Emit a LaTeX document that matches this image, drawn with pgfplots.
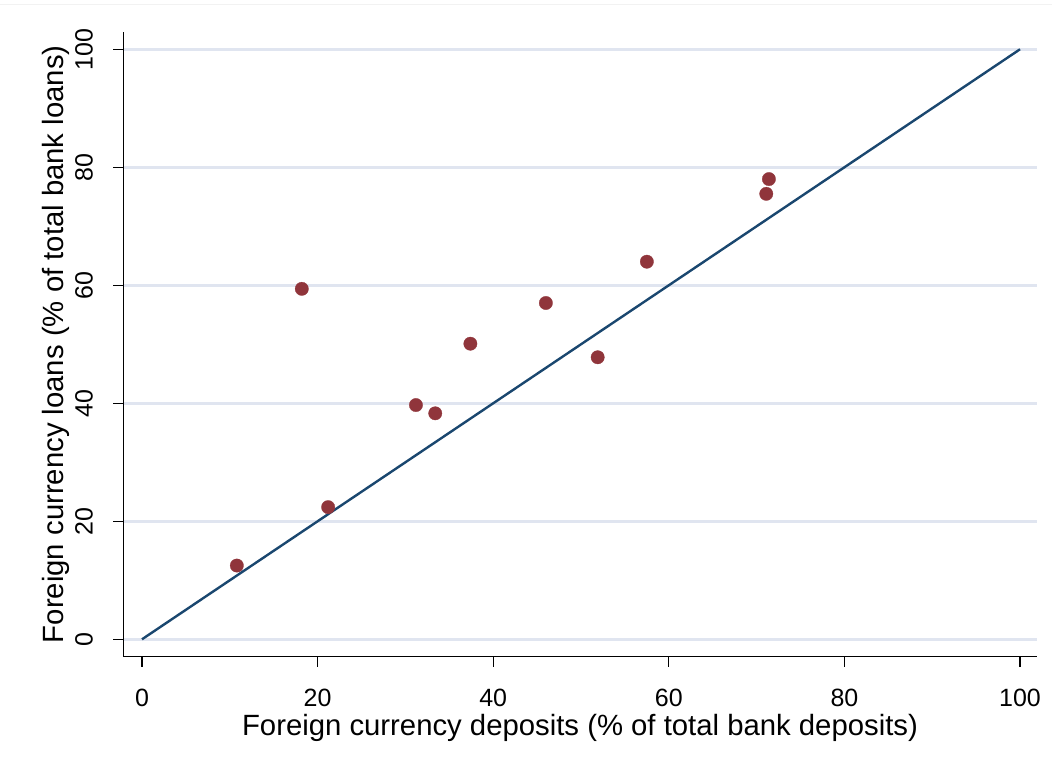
\documentclass[border=0pt]{standalone}
\usepackage{fontspec}
\setmainfont{Liberation Sans}
\usepackage{pgfplots}
\pgfplotsset{compat=1.18}
\definecolor{gridc}{RGB}{224,229,240}
\definecolor{navy}{RGB}{26,71,111}
\definecolor{maroon}{RGB}{144,53,59}
\begin{document}
\begin{tikzpicture}
\useasboundingbox (-123.3pt,-111.3pt) rectangle (928.7pt,656.7pt);
\draw[color={rgb,255:red,242;green,242;blue,242}, line width=1pt] (-123.3pt,651.7pt) -- (928.7pt,651.7pt);
\begin{axis}[
  scale only axis,
  width=913.4pt, height=625pt,
  xmin=-2.13, xmax=101.9,
  ymin=-2.95, ymax=102.98,
  axis x line*=bottom, axis y line*=left,
  axis line style={black, line width=1.3pt},
  xtick={0,20,...,100}, ytick={0,20,...,100},
  tick align=outside,
  major tick length=10pt,
  tick style={black, line width=1.3pt},
  ymajorgrids,
  major grid style={gridc, line width=2.7pt},
  /pgf/number format/assume math mode=true,
  tick label style={font=\fontsize{25}{30}\selectfont},
  xticklabel style={anchor=base, inner sep=0pt, yshift=-40.3pt},
  yticklabel style={xshift=-20.6pt, rotate=90, anchor=base, inner sep=0pt},
  every axis x label/.style={at={(axis description cs:0.5,0)}, yshift=-79pt, anchor=base, font=\fontsize{29.3}{34}\selectfont},
  every axis y label/.style={at={(axis description cs:0,0.5)}, xshift=-59.3pt, rotate=90, anchor=base, font=\fontsize{29.3}{34}\selectfont},
  xlabel={Foreign currency deposits (\% of total bank deposits)},
  ylabel={Foreign currency loans (\% of total bank loans)},
  clip=false,
]
\addplot[maroon, only marks, mark=*, mark size=6.7pt, mark options={fill=maroon, draw=maroon, line width=0.3pt}] coordinates {
(10.8,12.5) (21.2,22.4) (18.2,59.4) (31.2,39.7) (33.4,38.3) (37.4,50.1)
(46.0,57.0) (57.5,64.0) (51.9,47.8) (71.4,78.0) (71.1,75.5)
};
\addplot[navy, line width=2.4pt] coordinates {(0,0) (100,100)};
\end{axis}
\end{tikzpicture}
\end{document}
